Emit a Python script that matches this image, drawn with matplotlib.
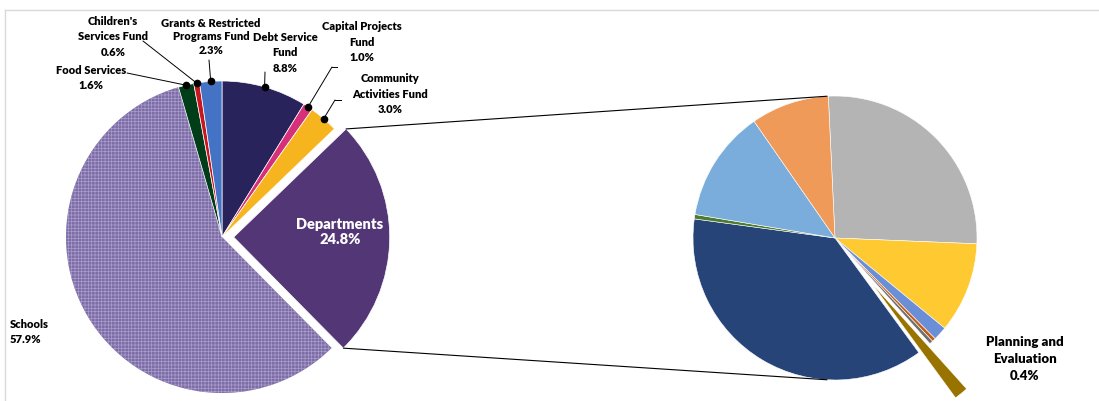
import numpy as np
import matplotlib.pyplot as plt
from matplotlib.patches import ConnectionPatch
from matplotlib.lines import Line2D

plt.rcParams['font.family'] = ['Lato', 'DejaVu Sans']
plt.rcParams['hatch.linewidth'] = 0.5

W, H = 1099, 401

# left pie - share of budget by fund
fund_names = ['Debt Service\nFund', 'Capital Projects\nFund', 'Community\nActivities Fund',
              'Departments', 'Schools', 'Food Services', "Children's\nServices Fund",
              'Grants & Restricted\nPrograms Fund']
fund_pct = [8.8, 1.0, 3.0, 24.8, 57.9, 1.6, 0.6, 2.3]
fund_colors = ['#29235c', '#d6307a', '#f6b51e', '#523675', '#7d6ca6',
               '#003d19', '#c8161e', '#4472c4']

# right pie - departments breakdown (share of the Departments slice)
dept_pct = [26.4, 10.3, 1.6, 0.4, 0.4, 1.6, 37.2, 0.5, 12.7, 8.9]
dept_colors = ['#b4b4b4', '#ffc931', '#6a8fd6', '#c55a11', '#6e6e6e',
               '#997300', '#264478', '#4e7b2f', '#7aaddc', '#f09a5a']
dept_label = 'Planning and\nEvaluation'
dept_label_idx = 5


def fx(x, y):
    return x / W, 1 - y / H


fig = plt.figure(figsize=(W / 100, H / 100), dpi=100)

# left pie, centre (222, 237) px, radius 156 px
r1, c1 = 156, (222, 237)
half = 1.2 * r1
ax1 = fig.add_axes([(c1[0] - half) / W, (H - c1[1] - half) / H, 2 * half / W, 2 * half / H])
explode1 = [0, 0, 0, 0.075, 0, 0, 0, 0]
w1, _ = ax1.pie(fund_pct, colors=fund_colors, startangle=90, counterclock=False,
                explode=explode1, radius=1,
                wedgeprops=dict(edgecolor='white', linewidth=0.5))
w1[4].set_edgecolor('#a99dcc')
w1[4].set_linewidth(0)
w1[4].set_hatch('+++++')
ax1.set_xlim(-1.2, 1.2)
ax1.set_ylim(-1.2, 1.2)

# right pie, centre (835, 238) px, radius 142 px
r2, c2 = 142, (835, 238)
half2 = 1.5 * r2
ax2 = fig.add_axes([(c2[0] - half2) / W, (H - c2[1] - half2) / H, 2 * half2 / W, 2 * half2 / H])
explode2 = [0] * len(dept_pct)
explode2[dept_label_idx] = 0.41
w2, _ = ax2.pie(dept_pct, colors=dept_colors, startangle=92.7, counterclock=False,
                explode=explode2, radius=1,
                wedgeprops=dict(edgecolor='white', linewidth=0.4))
ax2.set_xlim(-1.5, 1.5)
ax2.set_ylim(-1.5, 1.5)

# connector lines between the Departments slice and the breakdown pie
dw = w1[3]
for th, th2 in [(dw.theta2, 93.2), (dw.theta1, 266.8)]:
    pa = (dw.center[0] + np.cos(np.radians(th)), dw.center[1] + np.sin(np.radians(th)))
    pb = (np.cos(np.radians(th2)), np.sin(np.radians(th2)))
    con = ConnectionPatch(xyA=pa, coordsA=ax1.transData, xyB=pb, coordsB=ax2.transData,
                          color='black', lw=0.8)
    fig.add_artist(con)

# labels for the funds
label_pos = {0: (285, 53), 1: (362, 42), 2: (390, 94), 5: (91, 78), 6: (113, 37), 7: (211, 37)}
# leader line start points (px), with optional bend point
leader = {0: [(265, 72)], 1: [(337, 67), (332, 67)], 2: [(341, 100), (335, 100)],
          5: [(127, 73)], 6: [(143, 41)], 7: [(209, 60)]}

for i, pos in label_pos.items():
    ls = 1.3 if i == 7 else 1.45
    fig.text(*fx(*pos), f'{fund_names[i]}\n{fund_pct[i]:.1f}%', fontsize=8,
             fontweight='heavy', ha='center', va='center', linespacing=ls)
    w = w1[i]
    mid = np.radians((w.theta1 + w.theta2) / 2)
    dot = (np.cos(mid), np.sin(mid))
    ax1.plot(*dot, 'o', color='black', ms=4.5, clip_on=False, zorder=5)
    pts = leader[i]
    if len(pts) == 2:
        (xa, ya), (xb, yb) = pts
        fig.add_artist(Line2D([xa / W, xb / W], [1 - ya / H, 1 - yb / H],
                              color='black', lw=0.7, transform=fig.transFigure))
    con = ConnectionPatch(xyA=fx(*pts[-1]), coordsA=fig.transFigure, xyB=dot,
                          coordsB=ax1.transData, color='black', lw=0.7)
    fig.add_artist(con)

fig.text(10 / W, 1 - 332 / H, f'{fund_names[4]}\n{fund_pct[4]:.1f}%', fontsize=8,
         fontweight='heavy', ha='left', va='center', linespacing=1.45)
fig.text(*fx(340, 232), f'{fund_names[3]}\n{fund_pct[3]:.1f}%', fontsize=10.5,
         fontweight='heavy', color='white', ha='center', va='center', linespacing=1.25)

plan_total = dept_pct[dept_label_idx] * fund_pct[3] / 100
fig.text(*fx(1025, 359), f'{dept_label}\n{plan_total:.1f}%', fontsize=9.5,
         fontweight='heavy', ha='center', va='center', linespacing=1.5)

# light frame
fig.add_artist(Line2D([5 / W, 1], [1 - 10 / H, 1 - 10 / H], color='#d9d9d9', lw=1,
                      transform=fig.transFigure))
fig.add_artist(Line2D([5 / W, 5 / W], [1 - 10 / H, 0], color='#d9d9d9', lw=1,
                      transform=fig.transFigure))

fig.savefig('out.png', dpi=100)
